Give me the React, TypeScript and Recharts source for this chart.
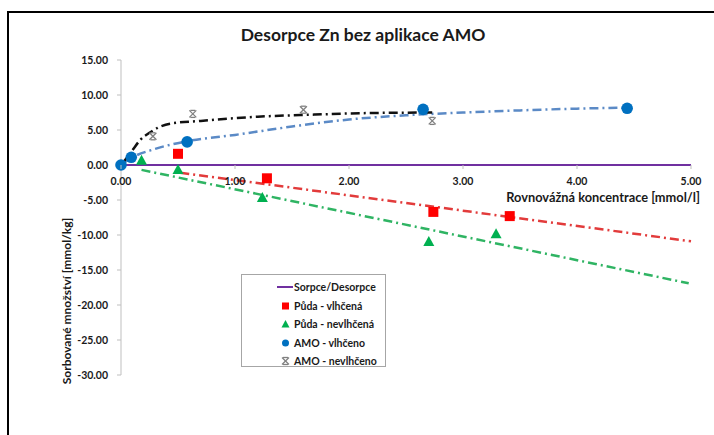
import React from 'react';
import { ComposedChart, Line, Scatter, XAxis, YAxis, Legend } from 'recharts';

// measured values (x = Rovnovážná koncentrace, y = Sorbované množství)
const soilWetX = [0.5, 1.28, 2.74, 3.41];
const soilWetY = [1.6, -1.9, -6.7, -7.3];

const soilDryX = [0.18, 0.5, 1.24, 2.7, 3.29];
const soilDryY = [0.6, -0.7, -4.7, -11.0, -9.9];

const amoWetX = [0.0, 0.09, 0.58, 2.65, 4.44];
const amoWetY = [0.0, 1.1, 3.3, 7.95, 8.1];

const amoDryX = [0.28, 0.63, 1.6, 2.73];
const amoDryY = [4.1, 7.3, 7.9, 6.3];

// trend lines
const soilWetTrendX = [0.52, 5.0];
const soilWetTrendY = [-1.1, -10.9];

const soilDryTrendX = [0.18, 4.98];
const soilDryTrendY = [-0.7, -16.9];

const amoWetTrendX = [0, 0.09, 0.3, 0.58, 1.0, 1.5, 2.0, 2.5, 3.0, 3.5, 4.0, 4.44];
const amoWetTrendY = [0, 1.0, 2.3, 3.4, 4.3, 5.5, 6.5, 7.1, 7.5, 7.8, 8.05, 8.2];

const amoDryTrendX = [0, 0.05, 0.1, 0.17, 0.25, 0.32, 0.43, 0.7, 1.2, 1.7, 2.1, 2.73];
const amoDryTrendY = [0, 1.0, 2.1, 3.6, 4.6, 5.3, 5.9, 6.3, 6.9, 7.2, 7.4, 7.5];

const sorpceX = [0, 5];
const sorpceY = [0, 0];

const xTicks = [0, 1, 2, 3, 4, 5];
const yTicks = [-30, -25, -20, -15, -10, -5, 0, 5, 10, 15];
const yDomain = [-30, 15];

const zip = (xs: number[], ys: number[]) => xs.map((x, i) => ({ x, y: ys[i] }));

const FONT = 'Lato, "Open Sans", sans-serif';
const TEXT = '#1a1a1a';

const W = 714;
const H = 435;
const margin = { top: 60, right: 23, bottom: 40, left: 61 };
const plotH = H - margin.top - 60;
const zeroY = margin.top + (plotH * yDomain[1]) / (yDomain[1] - yDomain[0]);

const DASH = '9 4 2 4';

const SquareMarker = ({ cx, cy }: any) => (
  <rect x={cx - 5} y={cy - 5} width={10} height={10} fill="#ff0000" />
);
const TriangleMarker = ({ cx, cy }: any) => (
  <polygon points={`${cx},${cy - 6} ${cx + 5.5},${cy + 4} ${cx - 5.5},${cy + 4}`} fill="#00b050" />
);
const CircleMarker = ({ cx, cy }: any) => <circle cx={cx} cy={cy} r={5.8} fill="#0070c0" />;
const XMarker = ({ cx, cy }: any) => (
  <g stroke="#808080" strokeWidth={1.3}>
    <line x1={cx - 3.5} y1={cy - 3.5} x2={cx + 3.5} y2={cy + 3.5} />
    <line x1={cx + 3.5} y1={cy - 3.5} x2={cx - 3.5} y2={cy + 3.5} />
    <line x1={cx - 2.5} y1={cy - 3.5} x2={cx + 2.5} y2={cy - 3.5} />
    <line x1={cx - 2.5} y1={cy + 3.5} x2={cx + 2.5} y2={cy + 3.5} />
  </g>
);

// x axis crosses at y = 0, so the labels sit under the zero line
const ZeroTick = ({ x, payload }: any) => (
  <g>
    <line x1={x} x2={x} y1={zeroY} y2={zeroY + 4} stroke="#bfbfbf" />
    <text x={x} y={zeroY + 20} textAnchor="middle" fontSize={10.5} fontWeight={700} fontFamily={FONT} fill={TEXT}>
      {Number(payload.value).toFixed(2)}
    </text>
  </g>
);

const legendItems = [
  { label: 'Sorpce/Desorpce', kind: 'line' },
  { label: 'Půda - vlhčená', kind: 'square' },
  { label: 'Půda - nevlhčená', kind: 'triangle' },
  { label: 'AMO - vlhčeno', kind: 'circle' },
  { label: 'AMO - nevlhčeno', kind: 'x' },
];

const LegendIcon = ({ kind }: { kind: string }) => (
  <svg width={16} height={10} style={{ marginRight: 1, flex: 'none' }}>
    {kind === 'line' && <line x1={0} x2={16} y1={5} y2={5} stroke="#7030a0" strokeWidth={2} />}
    {kind === 'square' && <rect x={5} y={1.5} width={7} height={7} fill="#ff0000" />}
    {kind === 'triangle' && <polygon points="8.5,1 12.5,8.5 4.5,8.5" fill="#00b050" />}
    {kind === 'circle' && <circle cx={8.5} cy={5} r={3.5} fill="#0070c0" />}
    {kind === 'x' && <XMarker cx={8.5} cy={5} />}
  </svg>
);

const LegendBox = () => (
  <div
    style={{
      border: '1px solid #a6a6a6',
      width: 145,
      height: 93,
      boxSizing: 'border-box',
      padding: '3px 0 0 35px',
      background: '#fff',
      fontFamily: FONT,
      fontSize: 10.5,
      fontWeight: 700,
      color: TEXT,
      textAlign: 'left',
    }}
  >
    {legendItems.map((it) => (
      <div key={it.label} style={{ display: 'flex', alignItems: 'center', height: 18.5 }}>
        <LegendIcon kind={it.kind} />
        <span>{it.label}</span>
      </div>
    ))}
  </div>
);

export default function App() {
  return (
    <div style={{ position: 'absolute', left: 0, top: 0, width: W, height: H, background: '#fff', overflow: 'hidden' }}>
      <div style={{ position: 'absolute', left: 7, top: 11, width: W, height: H, borderLeft: '2px solid #000', borderTop: '2px solid #000' }} />
      <div
        style={{
          position: 'absolute',
          left: 363,
          top: 34,
          transform: 'translate(-50%, -50%)',
          fontFamily: FONT,
          fontSize: 17.5,
          fontWeight: 700,
          color: TEXT,
          whiteSpace: 'nowrap',
        }}
      >
        Desorpce Zn bez aplikace AMO
      </div>
      <div
        style={{
          position: 'absolute',
          left: 66,
          top: 301,
          transform: 'translate(-50%, -50%) rotate(-90deg)',
          fontFamily: FONT,
          fontSize: 12,
          fontWeight: 700,
          color: TEXT,
          whiteSpace: 'nowrap',
        }}
      >
        Sorbované množství [mmol/kg]
      </div>
      <div
        style={{
          position: 'absolute',
          right: W - 700,
          top: 197,
          transform: 'translateY(-50%)',
          fontFamily: FONT,
          fontSize: 12.8,
          fontWeight: 700,
          color: TEXT,
          whiteSpace: 'nowrap',
        }}
      >
        Rovnovážná koncentrace [mmol/l]
      </div>
      <ComposedChart width={W} height={H} margin={margin} style={{ position: 'absolute', left: 0, top: 0 }}>
        <XAxis
          type="number"
          dataKey="x"
          domain={[0, 5]}
          ticks={xTicks}
          interval={0}
          height={20}
          axisLine={false}
          tickLine={false}
          tick={<ZeroTick />}
        />
        <YAxis
          type="number"
          dataKey="y"
          domain={yDomain}
          ticks={yTicks}
          interval={0}
          width={60}
          axisLine={{ stroke: '#bfbfbf' }}
          tickLine={{ stroke: '#bfbfbf' }}
          tickSize={4}
          tickMargin={9}
          tickFormatter={(v: number) => v.toFixed(2)}
          tick={{ fontSize: 10.5, fontWeight: 700, fill: TEXT, fontFamily: FONT }}
        />
        <Legend
          layout="vertical"
          align="center"
          verticalAlign="middle"
          wrapperStyle={{ left: 241, top: 274, width: 145, height: 93 }}
          content={<LegendBox />}
        />
        <Line data={zip(sorpceX, sorpceY)} dataKey="y" stroke="#7030a0" strokeWidth={2} dot={false} isAnimationActive={false} />
        <Line data={zip(soilWetTrendX, soilWetTrendY)} dataKey="y" stroke="#e23b3b" strokeWidth={2.5} strokeDasharray={DASH} dot={false} isAnimationActive={false} />
        <Line data={zip(soilDryTrendX, soilDryTrendY)} dataKey="y" stroke="#2fb463" strokeWidth={2.5} strokeDasharray={DASH} dot={false} isAnimationActive={false} />
        <Line type="monotone" data={zip(amoWetTrendX, amoWetTrendY)} dataKey="y" stroke="#5b8ac6" strokeWidth={2.5} strokeDasharray={DASH} dot={false} isAnimationActive={false} />
        <Line type="monotone" data={zip(amoDryTrendX, amoDryTrendY)} dataKey="y" stroke="#111" strokeWidth={2.5} strokeDasharray={DASH} dot={false} isAnimationActive={false} />
        <Scatter data={zip(soilWetX, soilWetY)} dataKey="y" shape={<SquareMarker />} isAnimationActive={false} />
        <Scatter data={zip(soilDryX, soilDryY)} dataKey="y" shape={<TriangleMarker />} isAnimationActive={false} />
        <Scatter data={zip(amoWetX, amoWetY)} dataKey="y" shape={<CircleMarker />} isAnimationActive={false} />
        <Scatter data={zip(amoDryX, amoDryY)} dataKey="y" shape={<XMarker />} isAnimationActive={false} />
      </ComposedChart>
    </div>
  );
}
